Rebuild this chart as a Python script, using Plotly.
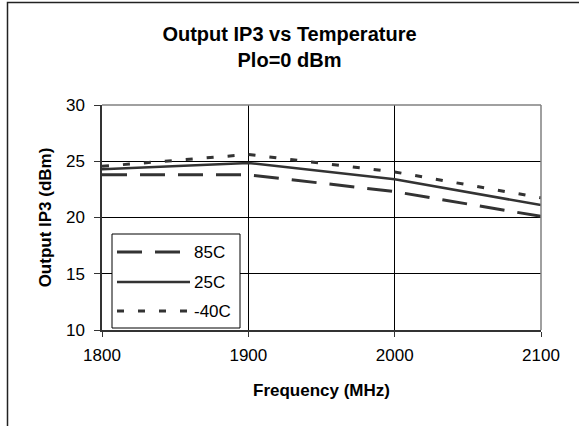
import plotly.graph_objects as go

freq = [1800, 1900, 2000, 2100]
series_names = ["85C", "25C", "-40C"]
ip3_85C = [23.8, 23.8, 22.3, 20.1]
ip3_25C = [24.3, 24.85, 23.4, 21.1]
ip3_m40C = [24.55, 25.6, 24.05, 21.75]
x_ticks = [1800, 1900, 2000, 2100]
y_ticks = [10, 15, 20, 25, 30]

LINE = "#333333"
FONT = "Liberation Sans, Arial, sans-serif"
styles = [
    dict(width=3, dash="25px,13px"),
    dict(width=2.5, dash="solid"),
    dict(width=3, dash="7px,14px"),
]
values = [ip3_85C, ip3_25C, ip3_m40C]

fig = go.Figure()
for name, vals, st in zip(series_names, values, styles):
    fig.add_trace(go.Scatter(x=freq, y=vals, mode="lines", name=name,
                             line=dict(color=LINE, **st), showlegend=False,
                             hoverinfo="skip"))

# plot-area geometry (px) for converting legend box to paper coords
L, R, T, B = 102, 38, 105, 96
W, H = 579, 426
pw, ph = W - L - R, H - T - B

def px_x(x):
    return (x - L) / pw

def px_y(y):
    return (H - B - y) / ph

shapes = []
annotations = []
# outer chart frame (extends off the right/bottom edges as in the reference)
shapes.append(dict(type="rect", xref="paper", yref="paper",
                   x0=px_x(7.5), x1=px_x(590), y0=px_y(2.5), y1=px_y(440),
                   line=dict(color="#222", width=1.5), layer="above"))
# custom legend box
shapes.append(dict(type="rect", xref="paper", yref="paper",
                   x0=px_x(112), x1=px_x(240), y0=px_y(328), y1=px_y(234),
                   line=dict(color="#000", width=1), fillcolor="white", layer="above"))
rows_y = [252, 282, 311]
ends = [181, 190, 188]
for name, st, ry, xe in zip(series_names, styles, rows_y, ends):
    shapes.append(dict(type="line", xref="paper", yref="paper",
                       x0=px_x(117), x1=px_x(xe), y0=px_y(ry), y1=px_y(ry),
                       line=dict(color=LINE, **st), layer="above"))
    annotations.append(dict(xref="paper", yref="paper", x=px_x(192), y=px_y(ry),
                            text=name, showarrow=False, xanchor="left", yanchor="middle",
                            font=dict(family=FONT, size=17, color="#000")))

fig.update_layout(
    width=W, height=H,
    margin=dict(l=L, r=R, t=T, b=B),
    paper_bgcolor="white", plot_bgcolor="white",
    font=dict(family=FONT, size=17, color="#000"),
    title=dict(text="<b>Output IP3 vs Temperature<br>Plo=0 dBm</b>",
               x=0.5, xref="container", y=1 - 40.5 / H, yref="container",
               xanchor="center", yanchor="middle",
               font=dict(family=FONT, size=20, color="#000")),
    xaxis=dict(range=[1800, 2100], tickvals=x_ticks, ticktext=[str(v) for v in x_ticks],
               showgrid=True, gridcolor="#000", gridwidth=1,
               showline=True, linecolor="#333", linewidth=1.5, mirror=False,
               ticks="outside", ticklen=5, tickcolor="#333",
               ticklabelstandoff=4,
               title=dict(text="<b>Frequency (MHz)</b>", standoff=20,
                          font=dict(family=FONT, size=17)),
               zeroline=False),
    yaxis=dict(range=[10, 30], tickvals=y_ticks,
               showgrid=True, gridcolor="#000", gridwidth=1,
               showline=True, linecolor="#333", linewidth=1.5,
               ticks="outside", ticklen=6, tickcolor="#333",
               ticklabelstandoff=6,
               title=dict(text="<b>Output IP3 (dBm)</b>", standoff=10,
                          font=dict(family=FONT, size=17)),
               zeroline=False),
    shapes=shapes + [
        # gray plot-area border on top and right
        dict(type="line", xref="paper", yref="paper", x0=0, x1=1, y0=1, y1=1,
             line=dict(color="#808080", width=1.5)),
        dict(type="line", xref="paper", yref="paper", x0=1, x1=1, y0=0, y1=1,
             line=dict(color="#808080", width=1.5)),
    ],
    annotations=annotations,
)

fig.write_html("out.html", config={"displayModeBar": False},
               post_script="document.body.style.margin='0';document.body.style.overflow='hidden';")
